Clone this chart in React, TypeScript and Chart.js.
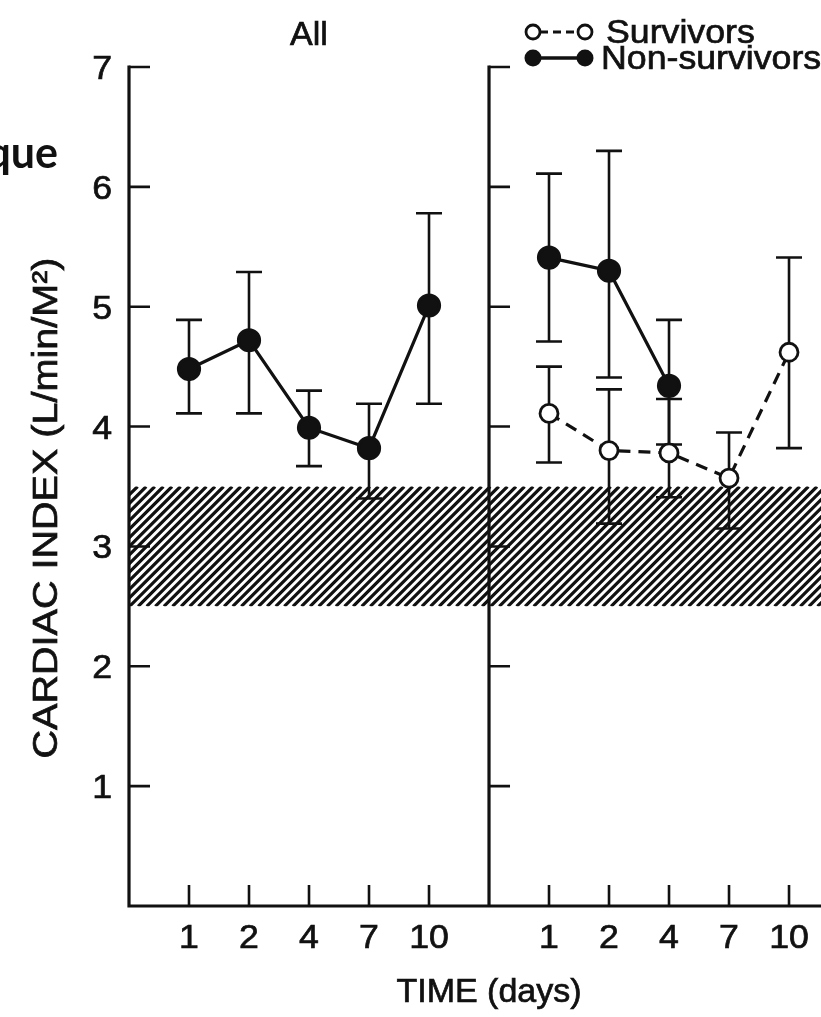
import React, { useEffect, useRef } from "react";
import { Chart, registerables } from "chart.js";

Chart.register(...registerables);

// ---- data ----
const days = ["1", "2", "4", "7", "10"];
const yTicks = [1, 2, 3, 4, 5, 6, 7];
const normalRange = [2.5, 3.5];

const allMean = [4.48, 4.72, 3.99, 3.82, 5.01];
const allLow = [4.11, 4.11, 3.67, 3.4, 4.19];
const allHigh = [4.89, 5.29, 4.3, 4.19, 5.78];

const survMean = [4.11, 3.8, 3.78, 3.57, 4.62];
const survLow = [3.7, 3.19, 3.41, 3.15, 3.82];
const survHigh = [4.5, 4.31, 4.23, 3.95, 5.41];

const nonMean = [5.41, 5.3, 4.34];
const nonLow = [4.71, 4.41, 3.85];
const nonHigh = [6.11, 6.3, 4.89];

const panelTitle = "All";
const legendSurv = "Survivors";
const legendNon = "Non-survivors";
const xTitle = "TIME (days)";
const yTitle = "CARDIAC INDEX (L/min/M\u00B2)";
const cutText = "que";

// panel offsets on the shared linear x scale
const leftOffset = 0;
const rightOffset = 6;

const INK = "#111";
const FONT = '"Liberation Sans", Arial, sans-serif';

function txt(ctx: CanvasRenderingContext2D, s: string, x: number, y: number, opts: any = {}) {
  const { size = 34, sx = 1.05, align = "center", bold = false, family = FONT, thick = 0.7 } = opts;
  ctx.save();
  ctx.font = `${bold ? "bold " : ""}${size}px ${family}`;
  ctx.textBaseline = "alphabetic";
  ctx.textAlign = align;
  ctx.fillStyle = INK;
  ctx.strokeStyle = INK;
  ctx.lineWidth = thick;
  ctx.translate(x, y);
  ctx.scale(sx, 1);
  ctx.fillText(s, 0, 0);
  if (thick > 0) ctx.strokeText(s, 0, 0);
  ctx.restore();
}

function errBar(ctx: CanvasRenderingContext2D, px: number, yLo: number, yHi: number) {
  ctx.beginPath();
  ctx.moveTo(px, yLo);
  ctx.lineTo(px, yHi);
  ctx.moveTo(px - 13, yLo);
  ctx.lineTo(px + 13, yLo);
  ctx.moveTo(px - 13, yHi);
  ctx.lineTo(px + 13, yHi);
  ctx.stroke();
}

const overlay = {
  id: "overlay",
  beforeDatasetsDraw(chart: any) {
    const { ctx } = chart;
    const x = chart.scales.x;
    const y = chart.scales.y;
    const W = chart.width;
    const x0 = x.getPixelForValue(leftOffset);
    const xd = x.getPixelForValue(rightOffset);
    const y0 = y.getPixelForValue(0);
    const yTop = y.getPixelForValue(yTicks[yTicks.length - 1]);

    // hatched normal range
    const hT = y.getPixelForValue(normalRange[1]);
    const hB = y.getPixelForValue(normalRange[0]);
    ctx.save();
    ctx.beginPath();
    ctx.rect(x0, hT, W - x0, hB - hT);
    ctx.clip();
    ctx.strokeStyle = INK;
    ctx.lineWidth = 3.2;
    ctx.beginPath();
    const h = hB - hT;
    for (let s = x0 - h; s < W + h; s += 8.6) {
      ctx.moveTo(s, hB);
      ctx.lineTo(s + h, hT);
    }
    ctx.stroke();
    ctx.restore();

    // axes
    ctx.save();
    ctx.strokeStyle = INK;
    ctx.lineWidth = 3.2;
    ctx.lineCap = "square";
    ctx.beginPath();
    ctx.moveTo(x0, yTop);
    ctx.lineTo(x0, y0);
    ctx.lineTo(W, y0);
    ctx.moveTo(xd, yTop);
    ctx.lineTo(xd, y0);
    ctx.stroke();
    ctx.lineCap = "butt";
    ctx.lineWidth = 2.6;
    ctx.beginPath();
    for (const t of yTicks) {
      const py = y.getPixelForValue(t);
      ctx.moveTo(x0, py);
      ctx.lineTo(x0 + 21, py);
      ctx.moveTo(xd, py);
      ctx.lineTo(xd + 21, py);
    }
    for (const off of [leftOffset, rightOffset]) {
      days.forEach((_, i) => {
        const px = x.getPixelForValue(off + i + 1);
        ctx.moveTo(px, y0);
        ctx.lineTo(px, y0 - 21);
      });
    }
    ctx.stroke();

    // error bars
    ctx.lineWidth = 2.6;
    days.forEach((_, i) => {
      errBar(ctx, x.getPixelForValue(leftOffset + i + 1), y.getPixelForValue(allLow[i]), y.getPixelForValue(allHigh[i]));
      errBar(ctx, x.getPixelForValue(rightOffset + i + 1), y.getPixelForValue(survLow[i]), y.getPixelForValue(survHigh[i]));
    });
    nonMean.forEach((_, i) => {
      errBar(ctx, x.getPixelForValue(rightOffset + i + 1), y.getPixelForValue(nonLow[i]), y.getPixelForValue(nonHigh[i]));
    });
    ctx.restore();

    // tick labels
    for (const t of yTicks) {
      txt(ctx, String(t), x0 - 17, y.getPixelForValue(t) + 12, { align: "right" });
    }
    for (const off of [leftOffset, rightOffset]) {
      days.forEach((d, i) => {
        txt(ctx, d, x.getPixelForValue(off + i + 1), y0 + 42);
      });
    }
    // titles
    txt(ctx, xTitle, xd, y0 + 96, { sx: 1.0 });
    txt(ctx, panelTitle, x.getPixelForValue(leftOffset + 3), 45, { sx: 1.0 });
    ctx.save();
    ctx.fillStyle = INK;
    ctx.strokeStyle = INK;
    ctx.lineWidth = 0.7;
    ctx.font = `35px ${FONT}`;
    ctx.textAlign = "center";
    ctx.textBaseline = "alphabetic";
    ctx.translate(44, 508);
    ctx.rotate(-Math.PI / 2);
    ctx.scale(1.13, 1);
    ctx.fillText(yTitle, 0, 12.5);
    ctx.strokeText(yTitle, 0, 12.5);
    ctx.restore();
    txt(ctx, cutText, 58, 168, { size: 43, sx: 1, align: "right", bold: true, family: "Lato, sans-serif", thick: 0 });

    // legend
    ctx.save();
    ctx.strokeStyle = INK;
    ctx.lineWidth = 2.8;
    ctx.setLineDash([8, 5]);
    ctx.beginPath();
    ctx.moveTo(540, 32);
    ctx.lineTo(580, 32);
    ctx.stroke();
    ctx.setLineDash([]);
    ctx.lineWidth = 3.5;
    ctx.beginPath();
    ctx.moveTo(535, 58);
    ctx.lineTo(585, 58);
    ctx.stroke();
    for (const cx of [533, 585]) {
      ctx.beginPath();
      ctx.arc(cx, 32, 7, 0, Math.PI * 2);
      ctx.fillStyle = "#fff";
      ctx.fill();
      ctx.lineWidth = 2.8;
      ctx.stroke();
      ctx.beginPath();
      ctx.arc(cx, 58, 8.5, 0, Math.PI * 2);
      ctx.fillStyle = INK;
      ctx.fill();
    }
    ctx.restore();
    txt(ctx, legendSurv, 606, 43, { align: "left" });
    txt(ctx, legendNon, 601, 69, { align: "left" });
  },
};

export default function App() {
  const ref = useRef<HTMLCanvasElement>(null);
  useEffect(() => {
    document.body.style.margin = "0";
    const chart = new Chart(ref.current!, {
      type: "line",
      data: {
        datasets: [
          {
            label: panelTitle,
            data: days.map((_, i) => ({ x: leftOffset + i + 1, y: allMean[i] })),
            borderColor: INK,
            borderWidth: 3.2,
            pointRadius: 10.5,
            pointBackgroundColor: INK,
            pointBorderColor: INK,
          },
          {
            label: legendSurv,
            data: days.map((_, i) => ({ x: rightOffset + i + 1, y: survMean[i] })),
            borderColor: INK,
            borderWidth: 3.2,
            borderDash: [12, 8],
            pointRadius: 9,
            pointBorderWidth: 2.8,
            pointBackgroundColor: "#fff",
            pointBorderColor: INK,
          },
          {
            label: legendNon,
            data: nonMean.map((v, i) => ({ x: rightOffset + i + 1, y: v })),
            borderColor: INK,
            borderWidth: 3.2,
            pointRadius: 10.5,
            pointBackgroundColor: INK,
            pointBorderColor: INK,
          },
        ],
      },
      options: {
        responsive: false,
        animation: false,
        devicePixelRatio: 1,
        layout: { autoPadding: false, padding: { left: 129, right: 0, top: 67, bottom: 111 } },
        scales: {
          x: { type: "linear", min: 0, max: 11.533, display: false },
          y: { type: "linear", min: 0, max: 7, display: false },
        },
        plugins: { legend: { display: false }, tooltip: { enabled: false } },
      },
      plugins: [overlay],
    });
    return () => chart.destroy();
  }, []);
  return (
    <div style={{ position: "absolute", left: 0, top: 0, width: 821, height: 1017, background: "#fff", overflow: "hidden" }}>
      <canvas ref={ref} width={821} height={1017} style={{ display: "block" }} />
    </div>
  );
}
